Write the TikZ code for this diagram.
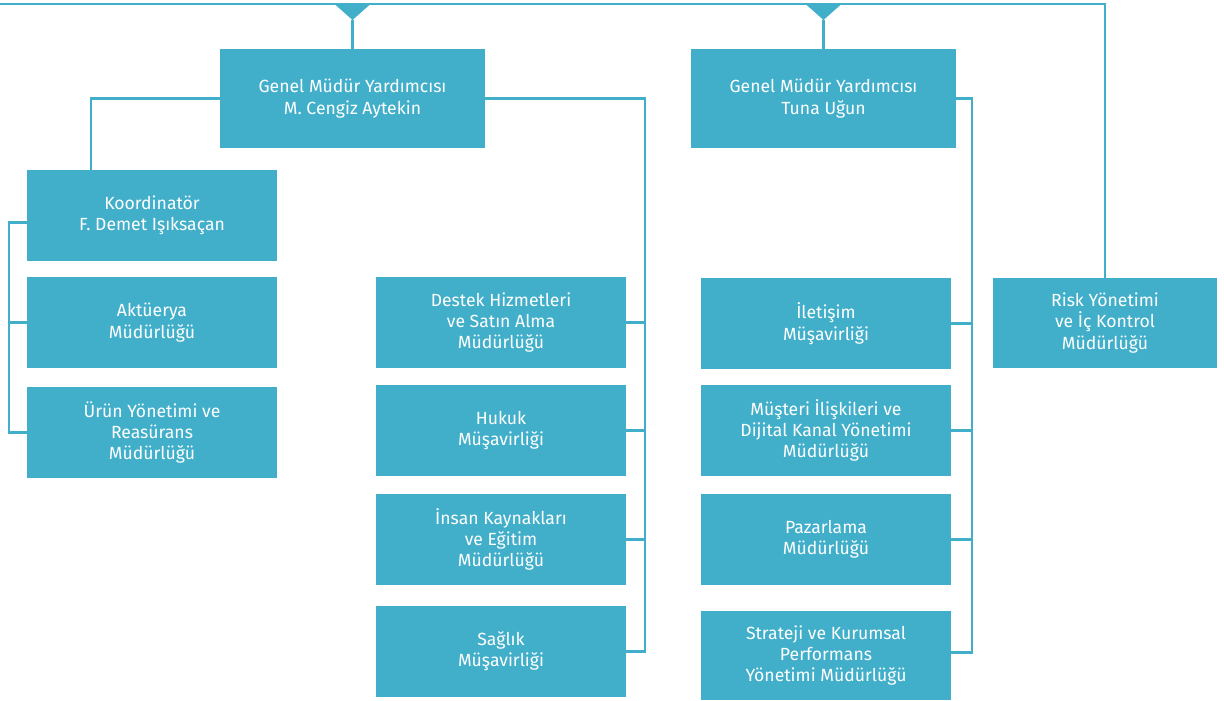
\documentclass[tikz,border=0pt]{standalone}
\usepackage{fontspec}
\setmainfont{Fira Sans}
\usepackage{tikz}
\usetikzlibrary{calc}

\definecolor{orgblue}{RGB}{65,175,202}

\begin{document}
\begin{tikzpicture}[
	x=0.75pt, y=-0.75pt,
	unit/.style={
		shape=rectangle,
		fill=orgblue,
		text=white,
		align=center,
		inner sep=0pt,
		minimum width={250*0.75pt},
		minimum height={91*0.75pt},
		font=\fontsize{13.2}{16}\selectfont},
	head/.style={unit, minimum width={265*0.75pt}, minimum height={99*0.75pt}},
	link/.style={draw=orgblue, line width=1.8pt},
	tip/.style={fill=orgblue}
	]
	\useasboundingbox (0,0) rectangle (1224,700);

	% deputy heads
	\node[head] (gmy1) at (352.5,98.5) {Genel Müdür Yardımcısı\\M. Cengiz Aytekin};
	\node[head] (gmy2) at (823.5,98.5) {Genel Müdür Yardımcısı\\Tuna Uğun};

	% left column
	\node[unit] (koord) at (152,215.5) {Koordinatör\\F. Demet Işıksaçan};
	\node[unit] (aktuerya) at (152,322.5) {Aktüerya\\Müdürlüğü};
	\node[unit] (urun) at (152,432.5) {Ürün Yönetimi ve\\Reasürans\\Müdürlüğü};

	% middle column
	\node[unit] (destek) at (501,322.5) {Destek Hizmetleri\\ve Satın Alma\\Müdürlüğü};
	\node[unit] (hukuk) at (501,430.5) {Hukuk\\Müşavirliği};
	\node[unit] (insan) at (501,539.5) {İnsan Kaynakları\\ve Eğitim\\Müdürlüğü};
	\node[unit] (saglik) at (501,651.5) {Sağlık\\Müşavirliği};

	% right column
	\node[unit] (iletisim) at (826,323.5) {İletişim\\Müşavirliği};
	\node[unit] (musteri) at (826,430.5) {Müşteri İlişkileri ve\\Dijital Kanal Yönetimi\\Müdürlüğü};
	\node[unit] (pazarlama) at (826,539.5) {Pazarlama\\Müdürlüğü};
	\node[unit, minimum height={89*0.75pt}] (strateji) at (826,655.5) {Strateji ve Kurumsal\\Performans\\Yönetimi Müdürlüğü};

	\node[unit, minimum width={224*0.75pt}, minimum height={90*0.75pt}] (risk) at (1105,323) {Risk Yönetimi\\ve İç Kontrol\\Müdürlüğü};

	% top bar
	\coordinate (barstart) at (0,4);
	\coordinate (barend) at (1105,4);
	\coordinate (tip1) at (352.5,20);
	\coordinate (tip2) at (823.5,20);
	\draw[link] (barstart) -- (barend) -- (risk.north);
	\fill[tip] ($(tip1)+(-18,-16)$) -- ($(tip1)+(18,-16)$) -- (tip1) -- cycle;
	\fill[tip] ($(tip2)+(-18,-16)$) -- ($(tip2)+(18,-16)$) -- (tip2) -- cycle;
	\draw[link] (tip1) -- (gmy1.north);
	\draw[link] (tip2) -- (gmy2.north);

	% bus lines
	\coordinate (lbus) at (9,0);
	\coordinate (kdrop) at (91,0);
	\coordinate (mbus) at (645,0);
	\coordinate (rbus) at (972,0);

	\draw[link] (gmy1.west) -| (kdrop |- koord.north);
	\draw[link] ($(koord.west)+(0,7)$) -| (lbus |- urun.west) -- (urun.west);
	\draw[link] (aktuerya.west) -- (lbus |- aktuerya.west);

	\draw[link] (gmy1.east) -| (mbus |- saglik.east) -- (saglik.east);
	\foreach \n in {destek, hukuk, insan}
		\draw[link] (\n.east) -- (mbus |- \n.east);

	\draw[link] (gmy2.east) -| ($(rbus |- strateji.east)+(0,-3)$) -- ($(strateji.east)+(0,-3)$);
	\foreach \n in {iletisim, musteri, pazarlama}
		\draw[link] (\n.east) -- (rbus |- \n.east);
\end{tikzpicture}
\end{document}
